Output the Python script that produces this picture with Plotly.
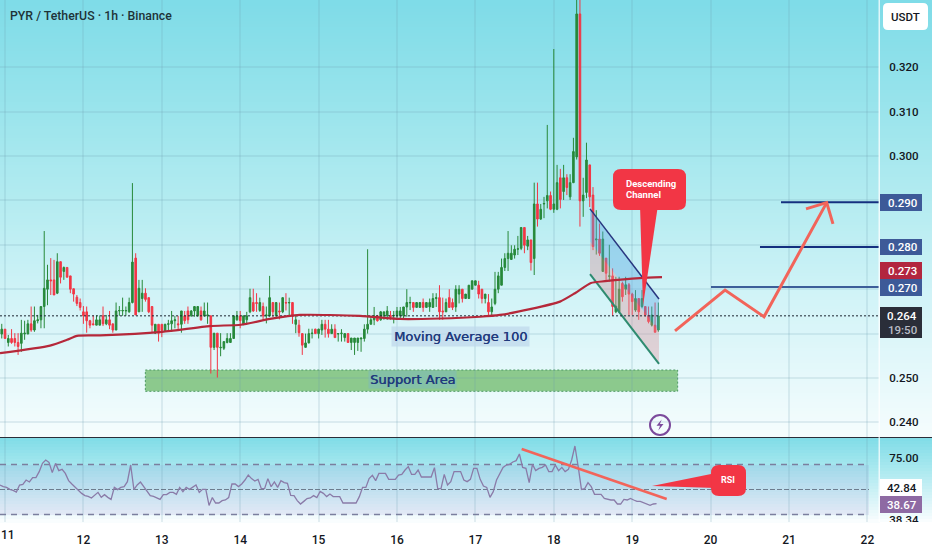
import numpy as np
import plotly.graph_objects as go

WIDTH = 932
HEIGHT = 550
FONT = 'Roboto'

day_labels = [11, 12, 13, 14, 15, 16, 17, 18, 19, 20, 21, 22]
day_tick_text = ['', '12', '13', '14', '15', '16', '17', '18', '19', '20', '21', '22']
price_ticks = [0.24, 0.25, 0.26, 0.27, 0.28, 0.29, 0.30, 0.31, 0.32]
price_tick_text = ['0.240', '0.250', '', '', '', '', '0.300', '0.310', '0.320']

first_candle_day = 10.9167

opens = [
    .2610, .2599, .2610, .2580, .2589, .2589, .2580, .2578, .2599, .2599,
    .2622, .2608, .2629, .2631, .2661, .2700, .2721, .2721, .2691, .2762,
    .2740, .2749, .2730, .2701, .2682, .2670, .2649, .2649, .2629, .2622,
    .2619, .2619, .2640, .2622, .2631, .2622, .2608, .2651, .2651, .2651,
    .2649, .2670, .2770, .2649, .2679, .2691, .2681, .2661, .2601, .2621,
    .2621, .2607, .2621, .2622, .2629, .2622, .2621, .2640, .2651, .2640,
    .2651, .2640, .2651, .2640, .2640, .2640, .2569, .2601, .2568, .2567,
    .2580, .2580, .2589, .2631, .2640, .2622, .2631, .2649, .2670, .2670,
    .2652, .2661, .2640, .2640, .2670, .2640, .2651, .2649, .2670, .2669,
    .2670, .2621, .2619, .2600, .2569, .2579, .2600, .2610, .2600, .2608,
    .2621, .2610, .2600, .2610, .2599, .2600, .2591, .2600, .2580, .2580,
    .2580, .2588, .2589, .2610, .2621, .2631, .2640, .2631, .2640, .2640,
    .2641, .2640, .2640, .2640, .2640, .2660, .2669, .2670, .2659, .2659,
    .2670, .2659, .2660, .2659, .2679, .2681, .2651, .2649, .2681, .2670,
    .2660, .2689, .2700, .2679, .2679, .2700, .2709, .2709, .2700, .2679,
    .2670, .2649, .2668, .2700, .2709, .2749, .2769, .2767, .2777, .2790,
    .2792, .2839, .2797, .2811, .2769, .2892, .2858, .2892, .2899, .2911,
    .2880, .2880, .2951, .2920, .2951, .2908, .2940, .2998, .3320, .2899,
    .2918, .2980, .2912, .2811, .2813, .2740, .2770, .2729, .2730, .2649,
    .2649, .2713, .2700, .2710, .2689, .2653, .2679, .2661, .2661, .2641,
    .2619, .2619, .2608,
]
highs = [
    .2615, .2622, .2610, .2597, .2610, .2601, .2601, .2631, .2629, .2631,
    .2661, .2661, .2642, .2661, .2831, .2755, .2770, .2766, .2781, .2762,
    .2751, .2749, .2730, .2701, .2687, .2679, .2662, .2661, .2631, .2641,
    .2641, .2641, .2661, .2642, .2651, .2622, .2670, .2662, .2681, .2661,
    .2681, .2939, .2781, .2721, .2721, .2702, .2681, .2661, .2621, .2621,
    .2621, .2622, .2631, .2651, .2640, .2640, .2651, .2651, .2661, .2653,
    .2662, .2661, .2661, .2670, .2670, .2640, .2601, .2601, .2601, .2582,
    .2601, .2601, .2640, .2651, .2651, .2640, .2649, .2701, .2701, .2691,
    .2681, .2670, .2661, .2730, .2670, .2670, .2670, .2681, .2691, .2681,
    .2670, .2642, .2631, .2600, .2600, .2611, .2611, .2611, .2611, .2631,
    .2631, .2631, .2621, .2621, .2600, .2610, .2600, .2600, .2590, .2590,
    .2590, .2590, .2621, .2790, .2640, .2660, .2642, .2651, .2649, .2662,
    .2651, .2651, .2660, .2660, .2660, .2700, .2683, .2670, .2670, .2670,
    .2679, .2670, .2679, .2691, .2691, .2709, .2681, .2679, .2700, .2679,
    .2709, .2709, .2700, .2689, .2709, .2719, .2719, .2719, .2700, .2689,
    .2689, .2679, .2739, .2739, .2769, .2781, .2831, .2799, .2799, .2820,
    .2839, .2839, .2820, .2811, .2940, .2940, .2892, .2908, .3070, .2920,
    .3241, .2980, .2971, .2980, .2959, .2959, .3041, .3360, .3360, .2951,
    .3030, .2980, .2930, .2878, .2848, .2830, .2770, .2800, .2747, .2728,
    .2728, .2717, .2728, .2714, .2692, .2698, .2679, .2698, .2661, .2661,
    .2661, .2670, .2670,
]
lows = [
    .2600, .2589, .2589, .2571, .2577, .2571, .2552, .2559, .2586, .2599,
    .2604, .2604, .2623, .2612, .2612, .2664, .2687, .2687, .2689, .2713,
    .2721, .2727, .2691, .2672, .2662, .2652, .2622, .2602, .2612, .2619,
    .2619, .2619, .2617, .2619, .2610, .2602, .2608, .2640, .2640, .2640,
    .2647, .2668, .2642, .2649, .2649, .2672, .2646, .2602, .2599, .2582,
    .2592, .2604, .2607, .2604, .2612, .2608, .2602, .2622, .2622, .2638,
    .2638, .2638, .2629, .2638, .2622, .2510, .2563, .2501, .2549, .2563,
    .2578, .2580, .2589, .2629, .2612, .2619, .2622, .2646, .2649, .2649,
    .2649, .2631, .2623, .2638, .2638, .2638, .2632, .2646, .2652, .2640,
    .2622, .2601, .2593, .2552, .2569, .2578, .2589, .2600, .2589, .2597,
    .2591, .2591, .2600, .2591, .2582, .2582, .2582, .2580, .2563, .2552,
    .2561, .2559, .2582, .2600, .2621, .2619, .2627, .2629, .2631, .2631,
    .2631, .2623, .2631, .2631, .2631, .2638, .2653, .2649, .2659, .2659,
    .2649, .2659, .2649, .2659, .2660, .2631, .2631, .2649, .2659, .2653,
    .2649, .2668, .2670, .2679, .2679, .2700, .2709, .2679, .2668, .2668,
    .2642, .2640, .2664, .2691, .2709, .2741, .2741, .2766, .2769, .2777,
    .2788, .2781, .2788, .2742, .2732, .2841, .2856, .2860, .2882, .2878,
    .2872, .2878, .2882, .2901, .2912, .2901, .2939, .2992, .2841, .2863,
    .2905, .2885, .2788, .2778, .2775, .2740, .2721, .2717, .2640, .2646,
    .2646, .2672, .2687, .2642, .2642, .2649, .2631, .2657, .2638, .2623,
    .2616, .2603, .2604,
]
closes = [
    .2605, .2610, .2589, .2589, .2580, .2580, .2571, .2601, .2601, .2622,
    .2608, .2629, .2631, .2661, .2702, .2721, .2719, .2687, .2762, .2727,
    .2749, .2727, .2700, .2689, .2668, .2659, .2640, .2629, .2619, .2620,
    .2631, .2631, .2622, .2631, .2619, .2608, .2651, .2652, .2652, .2652,
    .2670, .2761, .2642, .2702, .2691, .2677, .2649, .2619, .2621, .2601,
    .2607, .2621, .2622, .2629, .2631, .2620, .2651, .2629, .2631, .2651,
    .2661, .2661, .2631, .2651, .2642, .2569, .2601, .2569, .2569, .2582,
    .2589, .2589, .2640, .2640, .2629, .2640, .2640, .2681, .2651, .2668,
    .2670, .2640, .2642, .2681, .2649, .2670, .2649, .2681, .2669, .2670,
    .2640, .2631, .2602, .2574, .2579, .2600, .2601, .2600, .2610, .2621,
    .2610, .2600, .2610, .2591, .2600, .2601, .2600, .2580, .2590, .2590,
    .2590, .2590, .2610, .2621, .2631, .2640, .2629, .2649, .2649, .2651,
    .2638, .2641, .2651, .2651, .2660, .2670, .2670, .2659, .2670, .2670,
    .2659, .2670, .2670, .2679, .2681, .2649, .2649, .2670, .2659, .2659,
    .2700, .2700, .2679, .2689, .2709, .2719, .2719, .2689, .2679, .2689,
    .2649, .2660, .2700, .2730, .2749, .2769, .2781, .2781, .2790, .2791,
    .2839, .2799, .2811, .2760, .2892, .2858, .2880, .2893, .2911, .2880,
    .2892, .2940, .2902, .2951, .2929, .2940, .3010, .3320, .2899, .2912,
    .2991, .2908, .2796, .2813, .2781, .2813, .2736, .2730, .2661, .2662,
    .2700, .2683, .2710, .2689, .2672, .2679, .2649, .2679, .2642, .2627,
    .2642, .2603, .2640,
]

ma_days = [10.936, 11.574, 11.791, 11.918, 12.212, 13.003, 13.615, 14.010, 14.380, 14.763,
           15.528, 16.038, 16.548, 17.059, 17.314, 17.696, 18.079, 18.270, 18.474, 18.653,
           19.099, 19.380]
ma_values = [.2556, .2573, .2586, .2595, .2596, .2604, .2617, .2620, .2633, .2642,
             .2640, .2633, .2634, .2638, .2642, .2655, .2672, .2691, .2714, .2718,
             .2725, .2727]

rsi_first_day = 10.936
rsi_values = [
    53.6, 52.3, 51.7, 50.1, 49.3, 48.0, 53.6, 54.1, 57.6, 56.0, 59.5, 59.5, 64.3, 70.9, 73.6, 71.7,
    63.5, 70.9, 65.1, 66.1, 62.9, 57.1, 54.4, 51.7, 49.1, 46.9, 45.1, 44.5, 43.2, 45.6, 47.7, 43.7,
    45.9, 43.7, 42.1, 51.7, 49.9, 51.7, 52.3, 56.3, 69.6, 49.9, 53.6, 56.0, 52.3, 48.8, 45.1, 44.5,
    43.2, 42.1, 45.9, 45.9, 47.7, 47.7, 46.1, 51.7, 48.3, 51.7, 50.1, 51.7, 53.6, 47.7, 50.1, 50.1,
    37.3, 43.5, 39.2, 39.2, 41.1, 41.6, 43.5, 54.4, 54.4, 52.3, 54.4, 57.6, 61.6, 58.7, 56.8, 58.1,
    50.7, 50.7, 58.7, 52.3, 56.0, 51.7, 57.1, 55.5, 54.9, 45.3, 45.1, 41.1, 38.4, 40.5, 42.7, 43.2,
    45.1, 43.5, 48.5, 46.9, 44.3, 46.4, 44.3, 44.3, 44.3, 39.2, 39.2, 39.2, 39.2, 39.2, 44.3, 51.7, 51.7,
    58.7, 61.3, 57.1, 62.9, 62.9, 62.9, 58.1, 58.1, 58.1, 61.6, 62.1, 65.6, 68.3, 62.1, 62.1, 65.6,
    60.0, 60.0, 60.0, 60.0, 67.5, 50.7, 50.7, 62.1, 53.6, 56.3, 64.3, 64.3, 64.3, 57.6, 56.3, 58.1, 66.9,
    66.9, 58.1, 52.8, 51.7, 43.7, 48.3, 57.6, 62.9, 67.7, 69.6, 70.1, 72.0, 73.1, 78.4, 67.7, 66.9,
    55.5, 70.1, 65.1, 66.9, 67.7, 69.6, 64.3, 64.3, 69.6, 65.1, 67.7, 64.3, 66.1, 73.6, 84.8, 68.3,
    50.1, 50.7, 55.5, 52.3, 46.1, 46.1, 46.1, 42.9, 42.1, 41.6, 41.6, 38.4, 38.4, 42.1, 41.6, 42.9, 41.6, 40.5,
    40.5, 39.5, 37.9, 37.3, 38.4, 38.7,
]
rsi_levels = [70, 50, 30]
rsi_ticks = [75, 25.6]
rsi_tick_text = ['75.00', '38.34']

last_price = 0.2640
level_prices = [0.2896, 0.2795, 0.2705]
level_start_days = [20.898, 20.63, 20.005]
level_colors = ['#14307f', '#14307f', '#3d5e99']

channel_days = [18.462, 19.342]
channel_top = [.2881, .2678]
channel_mid = [.2807, .2605]
channel_bottom = [.2734, .2532]

support_days = [12.79, 19.58]
support_prices = [.2470, .2518]

projection_days = [19.546, 20.184, 20.681, 21.481]
projection_prices = [.2606, .2698, .2638, .2895]
arrow_days = [21.217, 21.481, 21.561]
arrow_prices = [.2881, .2895, .2847]

rsi_trend_days = [17.59, 19.44]
rsi_trend_values = [82.4, 42.4]

# background colours by pixel row, both panes fade out to white
main_stops = [0, 100, 200, 300, 437]
main_colors = [(127, 220, 232), (152, 228, 236), (180, 236, 241), (211, 244, 248), (246, 253, 254)]
rsi_stops = [438, 465, 515, 522]
rsi_colors = [(130, 221, 232), (166, 232, 239), (242, 251, 253), (255, 255, 255)]


def px(x):
    return x / WIDTH


def py(y):
    return 1 - y / HEIGHT


def rect(x0, y0, x1, y1, color, layer='above'):
    return dict(type='rect', xref='paper', yref='paper', x0=px(x0), x1=px(x1), y0=py(y0), y1=py(y1),
                fillcolor=color, line=dict(width=0), layer=layer)


def poly(points, color, line=None):
    path = 'M ' + ' L '.join(f'{px(x):.5f},{py(y):.5f}' for x, y in points) + ' Z'
    return dict(type='path', xref='paper', yref='paper', path=path, fillcolor=color,
                line=line or dict(width=0), layer='above')


def round_rect(x0, y0, x1, y1, r, color):
    # rounded box drawn with quadratic corners
    p = [
        f'M {px(x0 + r):.5f},{py(y0):.5f}', f'L {px(x1 - r):.5f},{py(y0):.5f}',
        f'Q {px(x1):.5f},{py(y0):.5f} {px(x1):.5f},{py(y0 + r):.5f}', f'L {px(x1):.5f},{py(y1 - r):.5f}',
        f'Q {px(x1):.5f},{py(y1):.5f} {px(x1 - r):.5f},{py(y1):.5f}', f'L {px(x0 + r):.5f},{py(y1):.5f}',
        f'Q {px(x0):.5f},{py(y1):.5f} {px(x0):.5f},{py(y1 - r):.5f}', f'L {px(x0):.5f},{py(y0 + r):.5f}',
        f'Q {px(x0):.5f},{py(y0):.5f} {px(x0 + r):.5f},{py(y0):.5f}', 'Z',
    ]
    return dict(type='path', xref='paper', yref='paper', path=' '.join(p), fillcolor=color,
                line=dict(width=0), layer='above')


def label(x, y, text, color='#ffffff', size=11.5, anchor='center', family=FONT, shadow=None, **kw):
    font = dict(family=family, size=size, color=color, weight=500)
    if shadow:
        font['shadow'] = shadow
    return dict(xref='paper', yref='paper', x=px(x), y=py(y), text=text, showarrow=False,
                xanchor=anchor, yanchor='middle', font=font, **kw)


def gradient(y_from, y_to, stops, colors):
    # stack of thin strips, plotly has no gradient fill for the background
    out = []
    for y in range(y_from, y_to, 3):
        rgb = [int(np.interp(y, stops, [c[k] for c in colors])) for k in range(3)]
        out.append(rect(0, y, WIDTH, y + 4, f'rgb({rgb[0]},{rgb[1]},{rgb[2]})', layer='below'))
    return out


candle_days = [first_candle_day + i / 24 for i in range(len(opens))]
rsi_days = [rsi_first_day + i / 24 for i in range(len(rsi_values))]

fig = go.Figure()

# channel fills go under the candles
fig.add_trace(go.Scatter(
    x=channel_days + channel_days[::-1], y=channel_top + channel_mid[::-1],
    mode='lines', fill='toself', fillcolor='rgba(88,165,225,0.38)', line=dict(width=0),
    xaxis='x', yaxis='y'))
fig.add_trace(go.Scatter(
    x=channel_days + channel_days[::-1], y=channel_mid + channel_bottom[::-1],
    mode='lines', fill='toself', fillcolor='rgba(222,140,150,0.36)', line=dict(width=0),
    xaxis='x', yaxis='y'))
fig.add_trace(go.Scatter(x=channel_days, y=channel_top, mode='lines',
                         line=dict(color='#28367f', width=1.5), xaxis='x', yaxis='y'))
fig.add_trace(go.Scatter(x=channel_days, y=channel_bottom, mode='lines',
                         line=dict(color='#2e8b70', width=2), xaxis='x', yaxis='y'))

fig.add_trace(go.Scatter(x=[10.936, 22.148], y=[last_price, last_price], mode='lines',
                         line=dict(color='#1c2430', width=1, dash='2px,2px'), xaxis='x', yaxis='y'))

fig.add_trace(go.Candlestick(
    x=candle_days, open=opens, high=highs, low=lows, close=closes,
    increasing=dict(line=dict(color='#27893a', width=1), fillcolor='#27893a'),
    decreasing=dict(line=dict(color='#f23645', width=1), fillcolor='#f23645'),
    whiskerwidth=0, xaxis='x', yaxis='y'))

fig.add_trace(go.Scatter(x=ma_days, y=ma_values, mode='lines',
                         line=dict(color='#b5283a', width=2.2, shape='spline', smoothing=0.6), xaxis='x', yaxis='y'))

for price, start, color in zip(level_prices, level_start_days, level_colors):
    fig.add_trace(go.Scatter(x=[start, 22.148], y=[price, price], mode='lines',
                             line=dict(color=color, width=2), xaxis='x', yaxis='y'))

fig.add_trace(go.Scatter(x=projection_days, y=projection_prices, mode='lines',
                         line=dict(color='#f2645a', width=3), xaxis='x', yaxis='y'))
fig.add_trace(go.Scatter(x=arrow_days, y=arrow_prices, mode='lines',
                         line=dict(color='#f2645a', width=3), xaxis='x', yaxis='y'))

# RSI pane
for level in rsi_levels:
    if level == 50:
        style = dict(color='rgba(80,90,110,0.75)', width=1, dash='5px,2px')
    else:
        style = dict(color='#7b7f9e', width=1.5, dash='6px,5px')
    fig.add_trace(go.Scatter(x=[10.936, 22.02], y=[level, level], mode='lines', line=style,
                             xaxis='x2', yaxis='y2'))

fig.add_trace(go.Scatter(x=rsi_days, y=rsi_values, mode='lines',
                         line=dict(color='#8a7ba8', width=1.3), xaxis='x2', yaxis='y2'))
fig.add_trace(go.Scatter(x=rsi_trend_days, y=rsi_trend_values, mode='lines',
                         line=dict(color='#f2645a', width=2.5), xaxis='x2', yaxis='y2'))

shapes = []
shapes += gradient(0, 437, main_stops, main_colors)
shapes += gradient(438, 522, rsi_stops, rsi_colors)
shapes.append(rect(0, 465, 869, 515, 'rgba(126,87,194,0.10)', layer='below'))
shapes.append(rect(0, 437, WIDTH, 438, '#2a2e39'))
shapes.append(rect(878.5, 0, 880, 522, 'rgba(255,255,255,0.75)'))
shapes.append(rect(880, 522, WIDTH, 532, '#ffffff'))

# support zone
shapes.append(dict(type='rect', xref='x', yref='y', x0=support_days[0], x1=support_days[1],
                   y0=support_prices[0], y1=support_prices[1], fillcolor='#8cc98d',
                   line=dict(color='#4e9a64', width=1, dash='2px,2px'), layer='below'))

# callouts
shapes.append(poly([(640, 205), (658, 205), (643, 306)], '#f23645'))
shapes.append(round_rect(613, 169, 686, 210, 8, '#f23645'))
shapes.append(poly([(652, 486), (716, 473), (716, 488)], '#f23645'))
shapes.append(round_rect(711, 465, 746, 496, 8, '#f23645'))

# lightning badge
shapes.append(dict(type='circle', xref='paper', yref='paper', x0=px(650), x1=px(670), y0=py(435), y1=py(415),
                   line=dict(color='#7b4a9c', width=2), fillcolor='rgba(0,0,0,0)', layer='above'))
shapes.append(poly([(661.7, 419.5), (656.5, 425.7), (660, 425.7), (658.3, 430.5), (663.5, 424), (660, 424)],
                   '#7b4a9c'))

# right side boxes
shapes.append(round_rect(883, 3, 928, 30, 5, '#ffffff'))
shapes.append(rect(880, 194, 922, 211, '#3d5a98'))
shapes.append(rect(880, 239, 922, 255, '#3d5a98'))
shapes.append(rect(880, 262, 922, 279, '#b2263f'))
shapes.append(rect(880, 279, 922, 296, '#3d5a98'))
shapes.append(rect(880, 307, 922, 338, '#2a2e39'))
shapes.append(rect(880, 479, 922, 496, '#ffffff'))
shapes.append(rect(880, 496, 922, 513, '#8e6aa3'))

annotations = [
    label(8, 16, 'PYR / TetherUS · 1h · Binance', color='#1e3338', size=12.3, anchor='left'),
    label(905, 17, 'USDT', color='#131722'),
    label(902, 202.5, '0.290'),
    label(902, 247, '0.280'),
    label(902, 270.5, '0.273'),
    label(902, 287.5, '0.270'),
    label(902, 316, '0.264'),
    label(902, 330, '19:50', color='#b9bcc6'),
    label(902, 488, '42.84', color='#131722'),
    label(902, 505, '38.67'),
    label(624, 184, '<b>Descending</b>', size=9.5, anchor='left'),
    label(624, 194, '<b>Channel</b>', size=9.5, anchor='left'),
    label(728, 479.5, '<b>RSI</b>', size=9),
    label(0, 535, '11', color='#131722', size=12, anchor='left', xshift=-1),
    label(460, 336, 'Moving Average 100', color='#1f3a7d', size=13, family='DejaVu Sans',
          shadow='0.4px 0 0 #1f3a7d', bgcolor='rgba(190,215,235,0.7)', borderpad=2),
    label(412, 379.5, 'Support Area', color='#1f3a7d', size=13, family='DejaVu Sans',
          shadow='0.4px 0 0 #1f3a7d', bgcolor='rgba(130,190,175,0.75)', borderpad=1),
]

grid = 'rgba(105,155,175,0.16)'
x_range = [10.936, 22.148]
tick_font = dict(family=FONT, size=12, color='#131722', weight=500)
right_font = dict(family=FONT, size=11.5, color='#131722', weight=500)

fig.update_layout(
    width=WIDTH,
    height=HEIGHT,
    margin=dict(l=0, r=0, t=0, b=0),
    paper_bgcolor='#ffffff',
    plot_bgcolor='rgba(0,0,0,0)',
    showlegend=False,
    shapes=shapes,
    annotations=annotations,
    xaxis=dict(domain=[0, 879 / WIDTH], range=x_range, anchor='y', tickvals=day_labels, showticklabels=False,
               automargin=False, showgrid=True, gridcolor=grid, gridwidth=1.5, zeroline=False,
               rangeslider=dict(visible=False)),
    yaxis=dict(domain=[1 - 437 / HEIGHT, 1], range=[.23671, .33514], anchor='x', side='right',
               automargin=False, tickvals=price_ticks, ticktext=price_tick_text, ticks='outside', ticklen=7,
               tickcolor='rgba(0,0,0,0)', tickfont=right_font, showgrid=True, gridcolor=grid, gridwidth=1.5,
               zeroline=False),
    xaxis2=dict(domain=[0, 879 / WIDTH], range=x_range, anchor='y2', tickvals=day_labels,
                automargin=False, ticktext=day_tick_text, ticks='outside', ticklen=7,
                tickcolor='rgba(0,0,0,0)', tickfont=tick_font, showgrid=True,
                gridcolor=grid, gridwidth=1.5, zeroline=False),
    yaxis2=dict(domain=[1 - 522 / HEIGHT, 1 - 438 / HEIGHT], range=[24, 91.2], anchor='x2', side='right',
                automargin=False, tickvals=rsi_ticks, ticktext=rsi_tick_text, ticks='outside', ticklen=7,
                tickcolor='rgba(0,0,0,0)', tickfont=right_font, showgrid=False, zeroline=False),
)

fig.write_html('out.html', config=dict(displayModeBar=False),
               post_script="document.body.style.margin='0';document.body.style.overflow='hidden';")
